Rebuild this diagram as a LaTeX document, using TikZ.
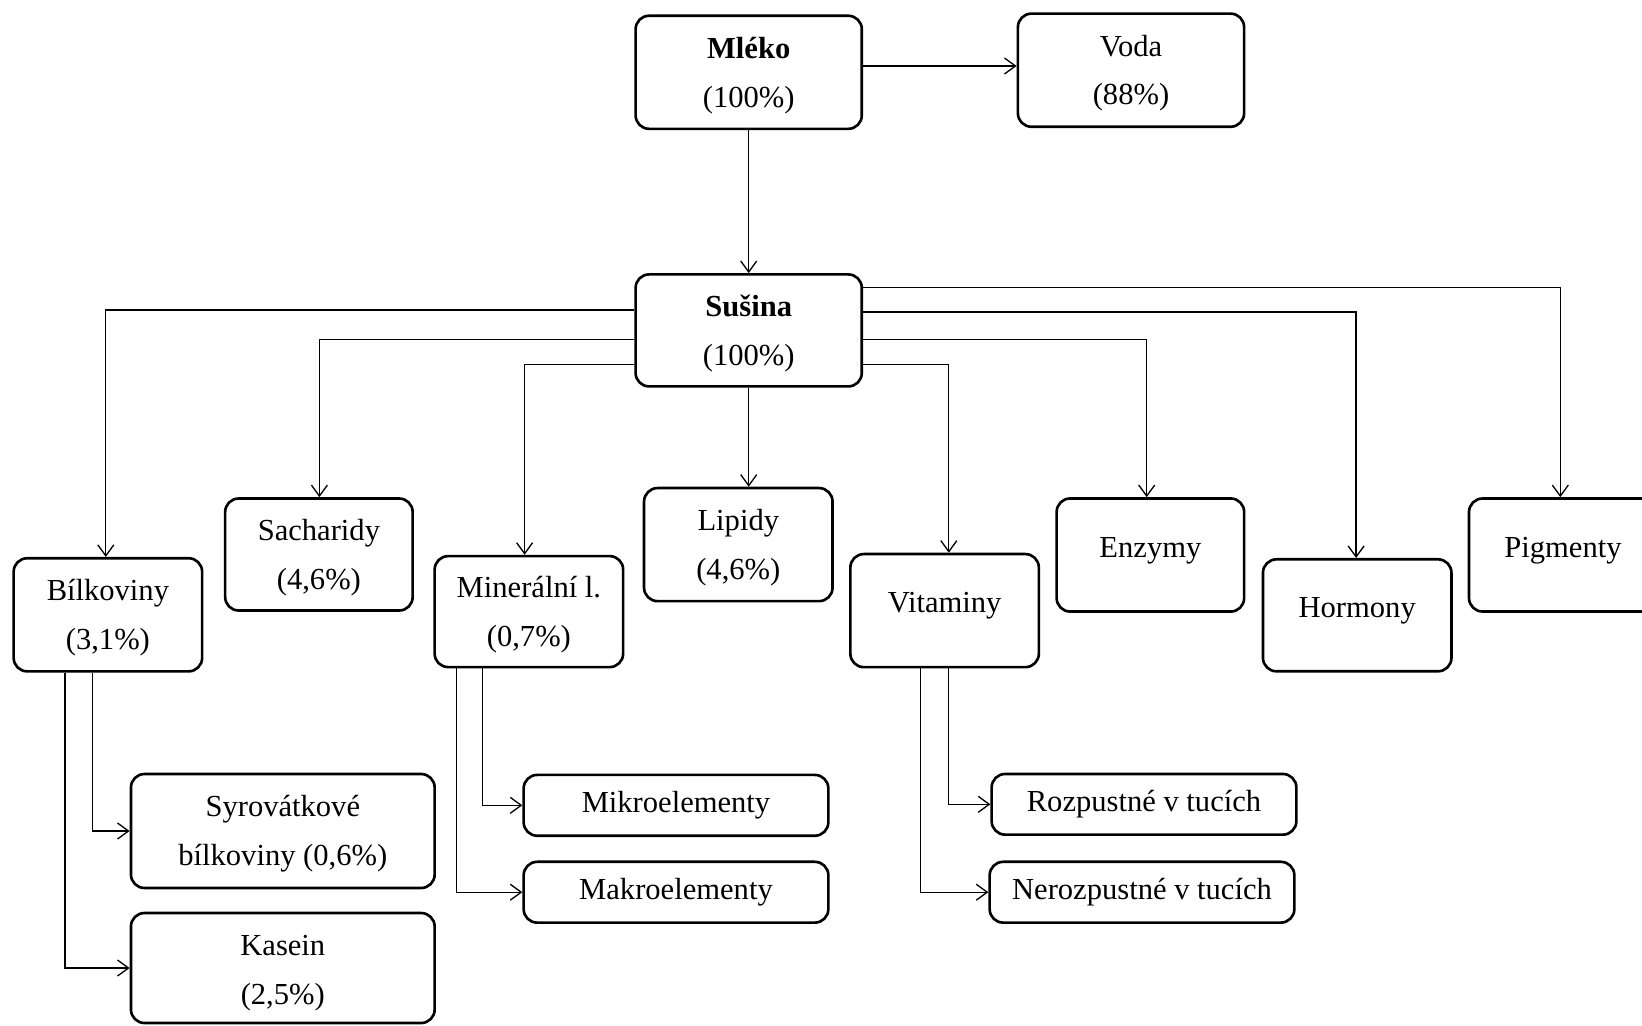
\documentclass[tikz,border=0pt]{standalone}
\usepackage{fontspec}
\setmainfont{Liberation Serif}
\usetikzlibrary{arrows.meta}
\newcommand{\tstrut}{\rule{0pt}{15.5pt}}
\begin{document}
\begin{tikzpicture}[x=0.02cm, y=-0.02cm,
  box/.style={draw, line width=1.5pt, rounded corners=0.27cm, inner sep=0pt, align=center,
              font=\fontsize{17.4}{27.8}\selectfont},
  one/.style={box, text height=12.2pt, text depth=3.5pt},
  high/.style={box, text height=12.2pt, text depth=9.7pt},
  sz/.style 2 args={minimum width=#1*0.02cm, minimum height=#2*0.02cm},
  arr/.style={line width=0.75pt, -{Straight Barb[length=0.22cm, width=0.32cm]}}]
\useasboundingbox (0,0) rectangle (1642,1025);
\fill[white] (0,0) rectangle (1642,1025);
\clip (0,0) rectangle (1642,1025);

% boxes
\node[box, sz={226.2}{113.1}] (mleko) at (748.7,72.3) {\tstrut\textbf{Mléko}\\(100\%)};
\node[box, sz={226.2}{113.1}] (voda) at (1131,70.2) {\tstrut Voda\\(88\%)};
\node[box, sz={226.2}{112}] (sus) at (748.7,330.4) {\tstrut\textbf{Sušina}\\(100\%)};
\node[box, sz={188.5}{113.1}] (bil) at (107.9,614.8) {\tstrut Bílkoviny\\(3,1\%)};
\node[box, sz={187.5}{112}] (sach) at (318.9,554.5) {\tstrut Sacharidy\\(4,6\%)};
\node[box, sz={188.5}{111}] (min) at (528.9,611.6) {\tstrut Minerální l.\\(0,7\%)};
\node[box, sz={188.5}{113.1}] (lip) at (738.3,544.6) {\tstrut Lipidy\\(4,6\%)};
\node[high, sz={188.5}{113.1}] (vit) at (944.6,610.6) {Vitaminy};
\node[high, sz={187.5}{113.1}] (enz) at (1150.4,555) {Enzymy};
\node[high, sz={188.5}{112}] (hor) at (1357.2,615.3) {Hormony};
\node[high, sz={188}{113}] (pig) at (1563,555) {Pigmenty};
\node[box, sz={303.7}{114}] (syr) at (282.8,831) {\tstrut Syrovátkové\\bílkoviny (0,6\%)};
\node[box, sz={303.7}{110}] (kas) at (282.8,968) {\rule{0pt}{17pt}Kasein\\(2,5\%)};
\node[one, sz={304.7}{60.8}] (mik) at (676,805.3) {Mikroelementy};
\node[one, sz={304.7}{60.8}] (mak) at (676,892.2) {Makroelementy};
\node[one, sz={304.7}{60.7}] (roz) at (1144,804.3) {Rozpustné v tucích};
\node[one, sz={304.7}{60.8}] (ner) at (1142,892.2) {Nerozpustné v tucích};

% helper coordinates
\coordinate (yV) at (0,66);
\coordinate (yL1) at (0,310);
\coordinate (yL2) at (0,339.3);
\coordinate (yL3) at (0,364.4);
\coordinate (yR1) at (0,287.5);
\coordinate (yR2) at (0,312.1);
\coordinate (yR3) at (0,339.3);
\coordinate (yR4) at (0,364.4);
\coordinate (xB) at (105.8,0);
\coordinate (xS) at (319.4,0);
\coordinate (xM) at (524.6,0);
\coordinate (xV) at (948.8,0);
\coordinate (xE) at (1146.7,0);
\coordinate (xH) at (1356.1,0);
\coordinate (xP) at (1560.3,0);
\coordinate (xb1) at (64.9,0);
\coordinate (xb2) at (92.2,0);
\coordinate (xm1) at (456.6,0);
\coordinate (xm2) at (482.8,0);
\coordinate (xv1) at (920.5,0);
\coordinate (xv2) at (948.8,0);

% connectors
\draw[arr] (mleko.east |- yV) -- (voda.west |- yV);
\draw[arr] (mleko.south) -- (sus.north);
\draw[arr] (sus.west |- yL1) -| (bil.north -| xB);
\draw[arr] (sus.west |- yL2) -| (sach.north -| xS);
\draw[arr] (sus.west |- yL3) -| (min.north -| xM);
\draw[arr] (sus.south) -- (lip.north -| sus.south);
\draw[arr] (sus.east |- yR4) -| (vit.north -| xV);
\draw[arr] (sus.east |- yR3) -| (enz.north -| xE);
\draw[arr] (sus.east |- yR2) -| (hor.north -| xH);
\draw[arr] (sus.east |- yR1) -| (pig.north -| xP);

\draw[arr] (bil.south -| xb2) |- (syr.west);
\draw[arr] (bil.south -| xb1) |- (kas.west);
\draw[arr] (min.south -| xm2) |- (mik.west);
\draw[arr] (min.south -| xm1) |- (mak.west);
\draw[arr] (vit.south -| xv2) |- (roz.west);
\draw[arr] (vit.south -| xv1) |- (ner.west);
\end{tikzpicture}
\end{document}
